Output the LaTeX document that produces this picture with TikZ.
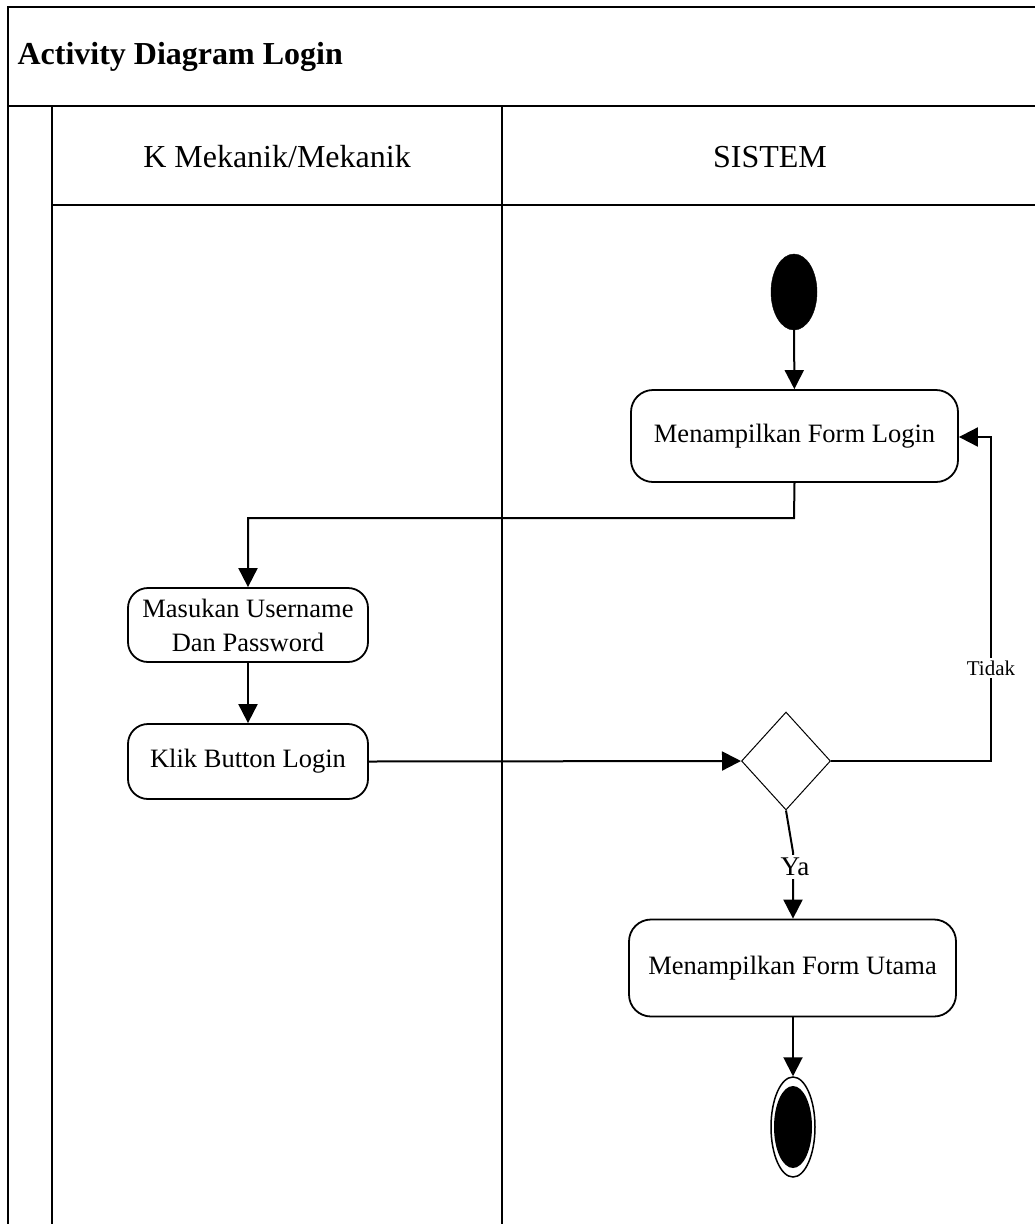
\documentclass[tikz,border=0pt]{standalone}
\usepackage{fontspec}
\setmainfont{Liberation Serif}
\usetikzlibrary{arrows.meta,shapes.geometric}
\begin{document}
\begin{tikzpicture}[x=1pt,y=-1pt,
  lane/.style={line width=2pt},
  act/.style={draw,line width=1.8pt,rounded corners=22pt,align=center,font=\fontsize{26.5}{34}\selectfont,inner sep=0pt},
  arr/.style={line width=2pt,-{Triangle[length=19pt,width=19pt]}},
  lbl/.style={fill=white,inner sep=3pt}]
\useasboundingbox (0,0) rectangle (1035,1224);
% frame
\draw[lane] (8,1224) -- (8,7) -- (1035,7);
\draw[lane] (8,106) -- (1035,106);
\draw[lane] (52,106) -- (52,1224);
\draw[lane] (52,205) -- (1035,205);
\draw[lane] (502,106) -- (502,1224);
\node[anchor=west,font=\fontsize{32}{36}\selectfont\bfseries] (title) at (14,57) {Activity Diagram Login};
\node[font=\fontsize{32}{36}\selectfont] (h1) at (277,157) {K Mekanik/Mekanik};
\node[font=\fontsize{32}{36}\selectfont] (h2) at (770,157) {SISTEM};
% nodes
\node[draw,fill=black,ellipse,minimum width=46pt,minimum height=76pt,inner sep=0pt] (start) at (794,292) {};
\node[act,minimum width=327pt,minimum height=92pt] (login) at (794.5,436) {Menampilkan Form Login};
\node[act,minimum width=240pt,minimum height=74pt,rounded corners=20pt] (masuk) at (248,625) {Masukan Username\\Dan Password};
\node[act,minimum width=240pt,minimum height=75pt,rounded corners=20pt] (klik) at (248,761.5) {Klik Button Login};
\node[draw,diamond,line width=1pt,minimum width=89pt,minimum height=98pt,inner sep=0pt] (dec) at (786,761) {};
\node[act,minimum width=327pt,minimum height=97pt] (utama) at (792.5,968) {Menampilkan Form Utama};
\node[draw,ellipse,line width=1.5pt,minimum width=44pt,minimum height=100pt,inner sep=0pt] (endo) at (793,1127) {};
\node[fill=black,ellipse,minimum width=38pt,minimum height=82pt,inner sep=0pt] (endi) at (793,1127) {};
% connectors
\draw[arr] (start) -- (login);
\draw[arr] (login.south) -- (794,518) -| (masuk.north);
\draw[arr] (masuk) -- (klik);
\draw[arr] (klik.east) -- (dec.west);
\draw[arr] (dec.east) -- (991,761) -- (991,437) -- (login.east |- 0,437);
\node[lbl,font=\fontsize{21}{24}\selectfont] (tidak) at (991,668) {Tidak};
\draw[arr] (dec.south) -- (793,852) -- (793,868) -- (utama.north -| 793,0);
\node[lbl,font=\fontsize{27}{30}\selectfont] (ya) at (795,867) {Ya};
\draw[arr] (utama.south -| 793,0) -- (endo.north);
\end{tikzpicture}
\end{document}
